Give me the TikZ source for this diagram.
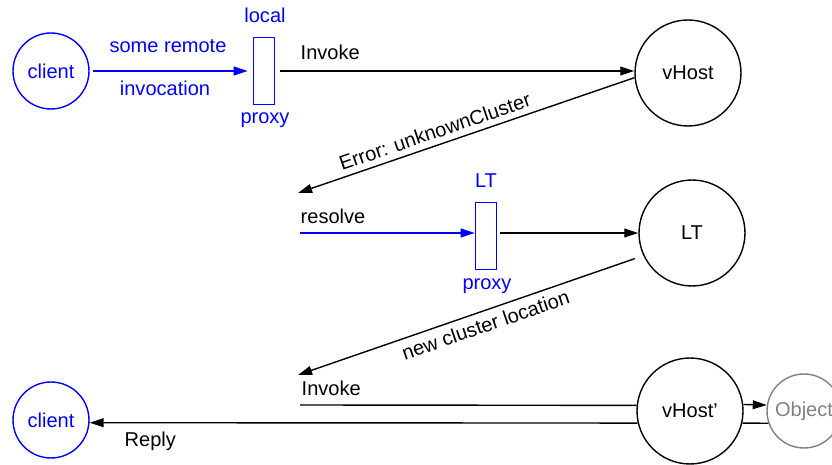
\documentclass[tikz,border=0pt]{standalone}
\usepackage{fontspec}
\setmainfont{Liberation Sans}
\usetikzlibrary{arrows.meta}
\definecolor{objgray}{RGB}{128,128,128}

\begin{document}
\begin{tikzpicture}[x=0.02cm,y=-0.02cm,line width=0.8pt,
  font=\fontsize{11.4}{13.7}\selectfont,
  >={Triangle[length=8pt,width=5pt]},
  host/.style={circle,draw,minimum size=2.12cm,inner sep=0pt},
  cli/.style={circle,draw=blue,text=blue,minimum size=1.52cm,inner sep=0pt},
  obj/.style={circle,draw=objgray,text=objgray,minimum size=1.48cm,inner sep=0pt},
  px/.style={rectangle,draw=blue,minimum width=0.42cm,minimum height=1.35cm,inner sep=0pt},
  bl/.style={text=blue,anchor=base},
  lab/.style={anchor=base west,inner sep=0pt},
  ]
  \useasboundingbox (0,0) rectangle (832,465);

  \node at (51,71) [cli] (client1) {client};
  \node at (264,71) [px] (lproxy) {};
  \node at (688,73) [host] (vhost) {vHost};
  \node at (486,236) [px] (ltproxy) {};
  \node at (692,233) [host] (lt) {LT};
  \node at (51,420) [cli] (client2) {client};
  \node at (690,411) [host] (vhost2) {vHost'};
  \node at (804,411) [obj] (object) {Object};

  \node at (168,53) [bl] (someremote) {some remote};
  \node at (165,96) [bl] (invocation) {invocation};
  \node at (265,23) [bl] (localtxt) {local};
  \node at (265,124) [bl] (proxytxt1) {proxy};
  \node at (300,60) [lab] (invoke1) {Invoke};
  \node at (486,188) [bl] (lttxt) {LT};
  \node at (300,224) [lab] (resolve) {resolve};
  \node at (487,290) [bl] (proxytxt2) {proxy};
  \node at (301,396) [lab] (invoke2) {Invoke};
  \node at (124,447) [lab] (reply) {Reply};

  \coordinate (errend) at (298,193);
  \coordinate (resstart) at (300,233);
  \coordinate (ncend) at (298,375);
  \coordinate (invstart) at (300,405);

  \draw (client1.east) edge [->,blue,shorten <=0.06cm,shorten >=0.1cm] (lproxy.west);
  \draw (lproxy.east) edge [->,shorten <=0.1cm] (lproxy.east -| vhost.west);
  \draw (vhost.185) edge [->] node[sloped,above,pos=0.58] (errtxt) {Error: unknownCluster} (errend);
  \draw (resstart) edge [->,blue] (resstart -| ltproxy.west);
  \draw (lt.west -| ltproxy.east) edge [->,shorten <=0.06cm] (lt.west);
  \draw (lt.205) edge [->,shorten <=0.18cm] node[sloped,below,pos=0.47] (nctxt) {new cluster location} (ncend);
  \draw (invstart) edge (vhost2.174);
  \draw (vhost2.7) edge [->] (object.171);
  \draw (object.199) edge (vhost2.347);
  \draw (vhost2.193) edge [->] (client2.356);
\end{tikzpicture}
\end{document}
